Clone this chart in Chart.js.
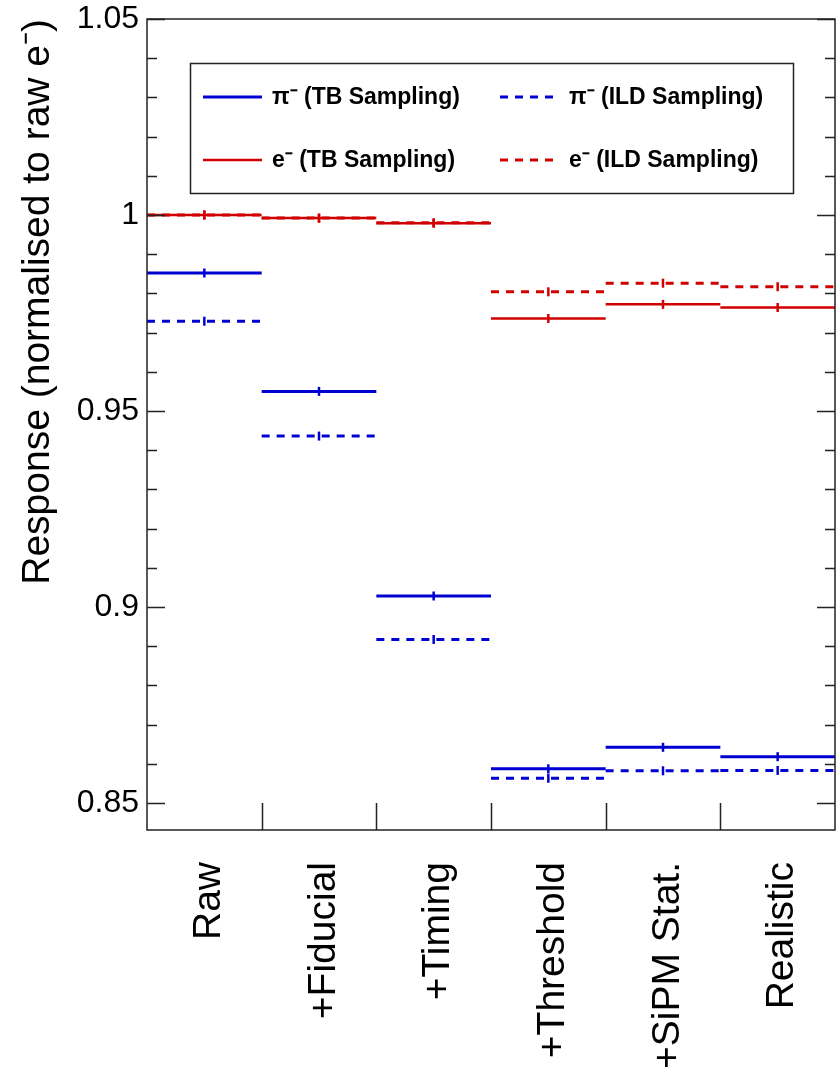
<!DOCTYPE html>
<html>
<head>
<meta charset="utf-8">
<script src="https://cdn.jsdelivr.net/npm/chart.js@4.4.0/dist/chart.umd.min.js"></script>
<style>
  html, body { margin: 0; padding: 0; background: #fff; }
  #wrap { width: 838px; height: 1070px; position: relative; }
</style>
</head>
<body>
<div id="wrap"><canvas id="chart"></canvas></div>
<script>
// selection steps (one bin each)
const categories = ['Raw', '+Fiducial', '+Timing', '+Threshold', '+SiPM Stat.', 'Realistic'];

// response normalised to raw e-
const piTB  = [0.9852, 0.9550, 0.9028, 0.8587, 0.8642, 0.8618];
const piILD = [0.9729, 0.9436, 0.8917, 0.8563, 0.8582, 0.8583];
const eTB   = [1.0000, 0.9992, 0.9979, 0.9736, 0.9772, 0.9764];
const eILD  = [1.0000, 0.9992, 0.9980, 0.9804, 0.9826, 0.9817];

const yMajorTicks = [0.85, 0.9, 0.95, 1, 1.05];
const yMinorTicks = [0.86, 0.87, 0.88, 0.89, 0.91, 0.92, 0.93, 0.94,
                     0.96, 0.97, 0.98, 0.99, 1.01, 1.02, 1.03, 1.04];

const legendLabels = ['π⁻ (TB Sampling)', 'π⁻ (ILD Sampling)', 'e⁻ (TB Sampling)', 'e⁻ (ILD Sampling)'];

const BLUE = '#0000d0';
const RED = '#d00000';

// horizontal segment over each bin, broken between bins
function steps(vals) {
  const pts = [];
  vals.forEach((v, i) => {
    pts.push({ x: i, y: v }, { x: i + 1, y: v }, { x: i + 1, y: null });
  });
  return pts;
}
function centres(vals) {
  return vals.map((v, i) => ({ x: i + 0.5, y: v }));
}

function lineSet(label, vals, color, width, dash) {
  return {
    label: label, data: steps(vals), borderColor: color, borderWidth: width,
    borderDash: dash, pointRadius: 0, spanGaps: false, tension: 0, fill: false
  };
}
function markerSet(vals, color) {
  return {
    label: '', data: centres(vals), showLine: false, borderColor: color,
    backgroundColor: color, pointStyle: 'line', rotation: 90,
    pointRadius: 4.5, borderWidth: 2.5, pointHoverRadius: 4.5
  };
}

const datasets = [
  lineSet(legendLabels[0], piTB, BLUE, 3, []),
  lineSet(legendLabels[1], piILD, BLUE, 3, [8, 7]),
  lineSet(legendLabels[2], eTB, RED, 2.5, []),
  lineSet(legendLabels[3], eILD, RED, 3, [8, 7]),
  markerSet(piTB, BLUE), markerSet(piILD, BLUE),
  markerSet(eTB, RED), markerSet(eILD, RED)
];

// frame with inward ticks, like the original plot
const framePlugin = {
  id: 'frame',
  afterDraw(chart) {
    const { ctx, chartArea: a, scales } = chart;
    const y = scales.y, x = scales.x;
    ctx.save();
    ctx.strokeStyle = '#222';
    ctx.lineWidth = 1.5;
    ctx.strokeRect(a.left, a.top, a.right - a.left, a.bottom - a.top);
    ctx.beginPath();
    yMajorTicks.forEach(v => {
      const p = Math.round(y.getPixelForValue(v)) + 0.5;
      ctx.moveTo(a.left, p); ctx.lineTo(a.left + 18, p);
      ctx.moveTo(a.right, p); ctx.lineTo(a.right - 18, p);
    });
    yMinorTicks.forEach(v => {
      const p = Math.round(y.getPixelForValue(v)) + 0.5;
      ctx.moveTo(a.left, p); ctx.lineTo(a.left + 10, p);
      ctx.moveTo(a.right, p); ctx.lineTo(a.right - 10, p);
    });
    for (let i = 1; i < categories.length; i++) {
      const p = Math.round(x.getPixelForValue(i)) + 0.5;
      ctx.moveTo(p, a.bottom); ctx.lineTo(p, a.bottom - 27);
    }
    ctx.stroke();
    ctx.restore();
  }
};

// boxed legend, two columns
const legendPlugin = {
  id: 'boxLegend',
  afterDraw(chart) {
    const ctx = chart.ctx;
    ctx.save();
    ctx.fillStyle = '#fff';
    ctx.fillRect(190, 63, 603, 130);
    ctx.strokeStyle = '#222';
    ctx.lineWidth = 1.5;
    ctx.strokeRect(190.5, 63.5, 603, 130);
    const cols = [203, 500];
    const rows = [97, 160];
    for (let i = 0; i < 4; i++) {
      const ds = chart.data.datasets[i];
      const cx = cols[i % 2], cy = rows[Math.floor(i / 2)];
      ctx.beginPath();
      ctx.strokeStyle = ds.borderColor;
      ctx.lineWidth = ds.borderWidth;
      ctx.setLineDash(ds.borderDash);
      ctx.moveTo(cx, cy); ctx.lineTo(cx + 59, cy);
      ctx.stroke();
      ctx.setLineDash([]);
      ctx.fillStyle = '#000';
      ctx.font = 'bold 23px "Liberation Sans", Arial, sans-serif';
      ctx.textBaseline = 'middle';
      ctx.fillText(ds.label, cx + 69, cy + 1);
    }
    ctx.restore();
  }
};

new Chart(document.getElementById('chart'), {
  type: 'line',
  data: { datasets: datasets },
  options: {
    responsive: true,
    maintainAspectRatio: false,
    animation: false,
    events: [],
    layout: { autoPadding: false, padding: { top: 19, right: 3, left: 0, bottom: 0 } },
    plugins: { legend: { display: false }, tooltip: { enabled: false } },
    scales: {
      x: {
        type: 'linear', min: 0, max: categories.length,
        grid: { display: false }, border: { display: false },
        afterBuildTicks: s => { s.ticks = categories.map((c, i) => ({ value: i + 0.5 })); },
        afterFit: s => { s.height = 240; s.paddingLeft = 0; s.paddingRight = 0; },
        ticks: {
          autoSkip: false, minRotation: 90, maxRotation: 90, padding: 24, labelOffset: 5,
          color: '#000', font: { family: '"Liberation Sans", Arial, sans-serif', size: 39 },
          callback: v => categories[Math.round(v - 0.5)]
        }
      },
      y: {
        min: 0.8431, max: 1.05,
        grid: { display: false }, border: { display: false },
        afterBuildTicks: s => { s.ticks = yMajorTicks.map(v => ({ value: v })); },
        afterFit: s => { s.width = 147; s.paddingTop = 0; s.paddingBottom = 0; },
        ticks: {
          padding: 0, color: '#000',
          font: { family: '"Liberation Sans", Arial, sans-serif', size: 32 },
          callback: v => String(+v.toFixed(2))
        },
        title: {
          display: true, text: 'Response (normalised to raw e⁻)', align: 'end',
          color: '#000', padding: { top: 15, bottom: 0 },
          font: { family: '"Liberation Sans", Arial, sans-serif', size: 39, lineHeight: 1.2 }
        }
      }
    }
  },
  plugins: [framePlugin, legendPlugin]
});
</script>
</body>
</html>
